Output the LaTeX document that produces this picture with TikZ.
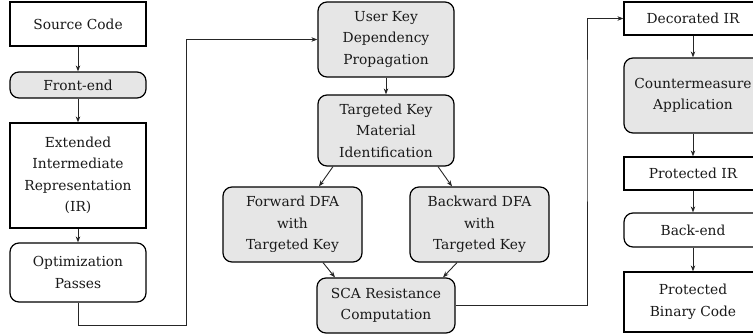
\documentclass[tikz,border=0pt]{standalone}
\usepackage{fontspec}
\setmainfont{DejaVu Serif}
\usetikzlibrary{arrows.meta,calc}
\definecolor{boxgray}{HTML}{E6E6E6}
\tikzset{
  base/.style={draw=black, line width=1.2pt, align=center, inner sep=2pt,
    font=\fontsize{13.8}{21.5}\selectfont, text=black!90},
  plainbox/.style={base, fill=white},
  roundwhite/.style={base, fill=white, rounded corners=9pt},
  roundgray/.style={base, fill=boxgray, rounded corners=9pt},
  arr/.style={draw=black!85, line width=0.9pt, -{Stealth[length=6pt,width=4.5pt]}},
}
\begin{document}
\begin{tikzpicture}[x=1pt,y=-1pt]
  \useasboundingbox (0,0) rectangle (753,335);
  \clip (0,0) rectangle (753,335);

  % left column: front end
  \node[plainbox, minimum width=136pt, minimum height=44pt] (src) at (78,24) {Source Code};
  \node[roundgray, minimum width=136pt, minimum height=26pt] (fe) at (78,85) {Front-end};
  \node[plainbox, minimum width=136pt, minimum height=105pt] (eir) at (78,175.5) {Extended\\Intermediate\\Representation\\(IR)};
  \node[roundwhite, minimum width=136pt, minimum height=59pt] (opt) at (78,272.5) {Optimization\\Passes};

  % middle column: analysis
  \node[roundgray, minimum width=136pt, minimum height=75pt] (uk) at (386,39.5) {User Key\\Dependency\\Propagation};
  \node[roundgray, minimum width=136pt, minimum height=71pt] (tkm) at (386,130.5) {Targeted Key\\Material\\Identification};
  \node[roundgray, minimum width=139pt, minimum height=75pt] (fwd) at (292.5,224.5) {Forward DFA\\with\\Targeted Key};
  \node[roundgray, minimum width=139pt, minimum height=75pt] (bwd) at (479.5,224.5) {Backward DFA\\with\\Targeted Key};
  \node[roundgray, minimum width=138pt, minimum height=55pt] (sca) at (386,305.5) {SCA Resistance\\Computation};

  % right column: back end
  \node[plainbox, minimum width=138pt, minimum height=33pt] (dir) at (693,18.5) {Decorated IR};
  \node[roundgray, minimum width=138pt, minimum height=75pt] (cm) at (693,95.5) {Countermeasure\\Application};
  \node[plainbox, minimum width=138pt, minimum height=33pt] (pir) at (693,173.5) {Protected IR};
  \node[roundwhite, minimum width=138pt, minimum height=34pt] (be) at (693,230) {Back-end};
  \node[plainbox, minimum width=138pt, minimum height=60pt] (pbc) at (693,302) {Protected\\Binary Code};

  % bends of the long connectors
  \coordinate (bendA) at (186,325);
  \coordinate (bendB) at (587,100);

  % connectors
  \draw[arr] (src) -- (fe);
  \draw[arr] (fe) -- (eir);
  \draw[arr] (eir) -- (opt);
  \draw[arr] (opt.south) |- (bendA) |- (uk.west);

  \draw[arr] (uk) -- (tkm);
  \draw[arr] ($(tkm.south)+(-53,0)$) -- ($(fwd.north)+(26.5,0)$);
  \draw[arr] ($(tkm.south)+(52,0)$) -- ($(bwd.north)+(-27.5,0)$);
  \draw[arr] ($(fwd.south)+(30.5,0)$) -- ($(sca.north)+(-51,0)$);
  \draw[arr] ($(bwd.south)+(-22.5,0)$) -- ($(sca.north)+(57,0)$);
  \draw[arr] (sca.east) -| (bendB) |- (dir.west);

  \draw[arr] (dir) -- (cm);
  \draw[arr] (cm) -- (pir);
  \draw[arr] (pir) -- (be);
  \draw[arr] (be) -- (pbc);
\end{tikzpicture}
\end{document}
